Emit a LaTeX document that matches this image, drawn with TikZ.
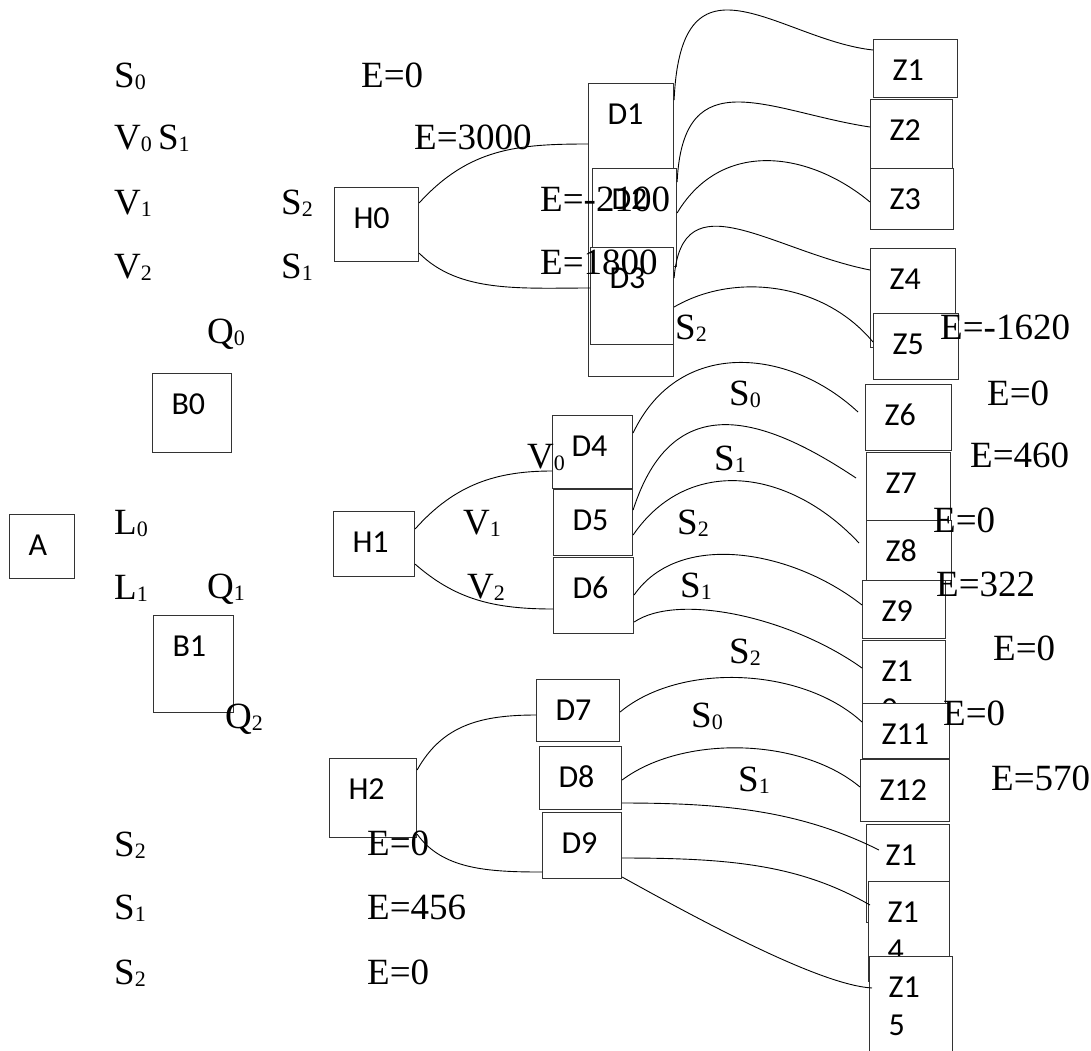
\documentclass[tikz,border=0pt]{standalone}
\usepackage{fontspec}
\setmainfont{Liberation Serif}
\newfontfamily\boxfont{Carlito}

% small subscript digit as in the drawing
\newcommand{\lsub}[1]{\raisebox{-2pt}{\fontsize{22}{22}\selectfont #1}}

\tikzset{
  box/.style={draw=black!80, line width=1.1pt, fill=white, anchor=north west,
    inner xsep=19pt, inner ysep=0pt, text height=41pt, align=left,
    font=\boxfont\fontsize{32}{38}\selectfont},
  lbl/.style={anchor=base west, inner sep=0pt, font=\fontsize{37}{44}\selectfont},
  link/.style={line width=0.9pt},
}

\begin{document}
\begin{tikzpicture}[x=1pt, y=-1pt]

    \useasboundingbox (0,0) rectangle (1091,1050);

    % ==========================================
    % 1. LEFT BOXES (A, B, H)
    % ==========================================
    \node[box, text width=27pt, text depth=23pt] (A) at (9,514) {A};
    \node[box, text width=41pt, text depth=38pt] (B0) at (152,373) {B0};
    \node[box, text width=42pt, text depth=56pt] (B1) at (153,615) {B1};

    \node[box, text width=46pt, text depth=33pt] (H0) at (334,187) {H0};
    \node[box, text width=43pt, text depth=24pt] (H1) at (333,511) {H1};
    \node[box, text width=49pt, text depth=38pt] (H2) at (329,758) {H2};

    % ==========================================
    % 2. MIDDLE BOXES (D1 ... D9), stacked as drawn
    % ==========================================
    \node[box, text width=47pt, text depth=252pt] (D1) at (588,83) {D1};
    \node[box, text width=46pt, text depth=57pt] (D2) at (592,168) {D2};
    \node[box, text width=45pt, text depth=56pt] (D3) at (590,247) {D3};

    \node[box, text width=42pt, text depth=32pt] (D4) at (552,415) {D4};
    \node[box, text width=41pt, text depth=25pt] (D5) at (553,489) {D5};
    \node[box, text width=42pt, text depth=35pt] (D6) at (553,557) {D6};

    \node[box, text width=45pt, text depth=21pt] (D7) at (536,679) {D7};
    \node[box, text width=44pt, text depth=22pt] (D8) at (539,746) {D8};
    \node[box, text width=41pt, text depth=25pt] (D9) at (542,812) {D9};

    % ==========================================
    % 3. RIGHT BOXES (Z1 ... Z15)
    % ==========================================
    \node[box, text width=46pt, text depth=17pt] (Z1) at (873,39) {Z1};
    \node[box, text width=44pt, text depth=28pt] (Z2) at (870,99) {Z2};
    \node[box, text width=45pt, text depth=20pt] (Z3) at (870,168) {Z3};
    \node[box, text width=47pt, text depth=58pt] (Z4) at (870,248) {Z4};
    \node[box, text width=47pt, text depth=25pt] (Z5) at (873,313) {Z5};
    \node[box, text width=48pt, text depth=25pt] (Z6) at (865,384) {Z6};
    \node[box, text width=46pt, text depth=27pt] (Z7) at (866,452) {Z7};
    \node[box, text width=47pt, text depth=19pt] (Z8) at (866,520) {Z8};
    \node[box, text width=45pt, text depth=17pt] (Z9) at (862,580) {Z9};
    \node[box, text width=45pt, text depth=59pt] (Z10) at (862,640) {Z1\\0};
    \node[box, text width=49pt, text depth=14pt] (Z11) at (862,703) {Z11};
    \node[box, text width=51pt, text depth=21pt] (Z12) at (860,759) {Z12};
    \node[box, text width=45pt, text depth=57pt] (Z13) at (866,824) {Z1\\3};
    \node[box, text width=43pt, text depth=59pt] (Z14) at (868,881) {Z1\\4};
    \node[box, text width=45pt, text depth=69pt] (Z15) at (869,956) {Z1\\5};

    % ==========================================
    % 4. CURVED LINKS
    % ==========================================
    % H -> D
    \draw[link] ([yshift=-16]H0.north east) .. controls +(50,-55) and +(-70,0) .. ([yshift=-61]D1.north west);
    \draw[link] ([yshift=9]H0.south east) .. controls +(40,40) and +(-70,0) .. ([yshift=-41]D3.north west);
    \draw[link] ([yshift=-18]H1.north east) .. controls +(40,-45) and +(-55,0) .. ([yshift=-56]D4.north west);
    \draw[link] ([yshift=13]H1.south east) .. controls +(40,35) and +(-60,0) .. ([yshift=-52]D6.north west);
    \draw[link] ([yshift=-12]H2.north east) .. controls +(25,-45) and +(-55,0) .. ([yshift=-36]D7.north west);
    \draw[link] ([yshift=4]H2.south east) .. controls +(25,35) and +(-55,0) .. ([yshift=-60]D9.north west);

    % D -> Z
    \draw[link] ([yshift=-17]D1.north east) .. controls +(7,-160) and +(-93,-10) .. ([yshift=-11]Z1.north west);
    \draw[link] ([yshift=-14]D2.north east) .. controls +(6,-125) and +(-100,-15) .. ([yshift=-28]Z2.north west);
    \draw[link] ([yshift=-45]D2.north east) .. controls +(45,-75) and +(-60,-50) .. ([yshift=-34]Z3.north west);
    \draw[link] ([yshift=-31]D3.north east) .. controls +(8,-100) and +(-100,-20) .. ([yshift=-22]Z4.north west);
    \draw[link] ([yshift=-60]D3.north east) .. controls +(60,-35) and +(-50,-60) .. ([yshift=-29]Z5.north west);
    \draw[link] ([yshift=-18]D4.north east) .. controls +(45,-95) and +(-70,-65) .. ([xshift=-7,yshift=-28]Z6.north west);
    \draw[link] ([yshift=-21]D5.north east) .. controls +(40,-125) and +(-90,-60) .. ([xshift=-10,yshift=-26]Z7.north west);
    \draw[link] ([yshift=-46]D5.north east) .. controls +(55,-80) and +(-70,-75) .. ([xshift=-7,yshift=-23]Z8.north west);
    \draw[link] ([yshift=-38]D6.north east) .. controls +(45,-65) and +(-70,-55) .. ([yshift=-25]Z9.north west);
    \draw[link] ([yshift=-65]D6.north east) .. controls +(45,-30) and +(-70,-50) .. ([yshift=-28]Z10.north west);
    \draw[link] ([yshift=-33]D7.north east) .. controls +(60,-50) and +(-60,-55) .. ([yshift=-19]Z11.north west);
    \draw[link] ([yshift=-34]D8.north east) .. controls +(60,-45) and +(-60,-50) .. ([yshift=-28]Z12.north west);
    \draw[link] ([yshift=-57]D8.north east) .. controls +(100,0) and +(-80,-40) .. ([xshift=13,yshift=-26]Z13.north west);
    \draw[link] ([yshift=-46]D9.north east) .. controls +(110,0) and +(-70,-40) .. ([xshift=2,yshift=-24]Z14.north west);
    \draw[link] ([yshift=-65]D9.north east) .. controls +(90,50) and +(-50,-3) .. ([xshift=3,yshift=-32]Z15.north west);

    % ==========================================
    % 5. LABELS
    % ==========================================
    % left column
    \node[lbl] (s0a) at (114,87) {S\lsub{0}};
    \node[lbl] (v0s1) at (114,149) {V\lsub{0}\,S\lsub{1}};
    \node[lbl] (v1a) at (114,214) {V\lsub{1}};
    \node[lbl] (v2a) at (114,278) {V\lsub{2}};
    \node[lbl] (s2a) at (281,214) {S\lsub{2}};
    \node[lbl] (s1a) at (281,278) {S\lsub{1}};
    \node[lbl] (q0) at (207,343) {Q\lsub{0}};
    \node[lbl] (l0) at (114,534) {L\lsub{0}};
    \node[lbl] (l1) at (114,599) {L\lsub{1}};
    \node[lbl] (q1) at (207,598) {Q\lsub{1}};
    \node[lbl] (q2) at (225,728) {Q\lsub{2}};
    \node[lbl] (s2e) at (114,856) {S\lsub{2}};
    \node[lbl] (s1e) at (114,919) {S\lsub{1}};
    \node[lbl] (s2f) at (114,984) {S\lsub{2}};

    % energies
    \node[lbl] (e0a) at (361,87) {E=0};
    \node[lbl] (e3000) at (414,149) {E=3000};
    \node[lbl] (e2100) at (540,211) {E=-2100};
    \node[lbl] (e1800) at (540,274) {E=1800};
    \node[lbl] (e1620) at (940,339) {E=-1620};
    \node[lbl] (e0b) at (987,405) {E=0};
    \node[lbl] (e460) at (970,467) {E=460};
    \node[lbl] (e0c) at (933,532) {E=0};
    \node[lbl] (e322) at (936,596) {E=322};
    \node[lbl] (e0d) at (993,660) {E=0};
    \node[lbl] (e0e) at (943,725) {E=0};
    \node[lbl] (e570) at (991,790) {E=570};
    \node[lbl] (e0f) at (367,855) {E=0};
    \node[lbl] (e456) at (367,919) {E=456};
    \node[lbl] (e0g) at (367,984) {E=0};

    % link labels
    \node[lbl] (s2b) at (675,339) {S\lsub{2}};
    \node[lbl] (v0b) at (527,468) {V\lsub{0}};
    \node[lbl] (v1b) at (463,534) {V\lsub{1}};
    \node[lbl] (v2b) at (467,598) {V\lsub{2}};
    \node[lbl] (s0b) at (729,405) {S\lsub{0}};
    \node[lbl] (s1b) at (714,470) {S\lsub{1}};
    \node[lbl] (s2c) at (677,534) {S\lsub{2}};
    \node[lbl] (s1c) at (680,597) {S\lsub{1}};
    \node[lbl] (s2d) at (729,663) {S\lsub{2}};
    \node[lbl] (s0c) at (691,727) {S\lsub{0}};
    \node[lbl] (s1d) at (738,791) {S\lsub{1}};

\end{tikzpicture}
\end{document}
